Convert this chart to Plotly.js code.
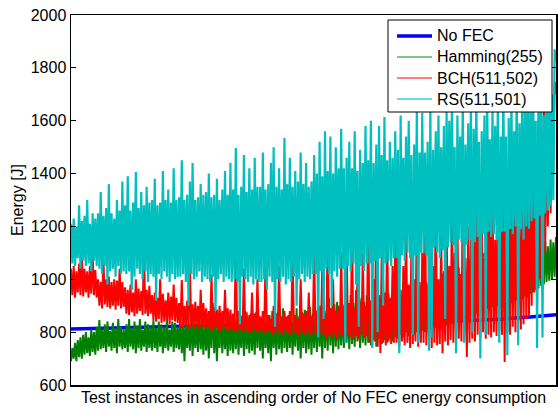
<!DOCTYPE html>
<html>
<head>
<meta charset="utf-8">
<script src="https://cdn.plot.ly/plotly-3.0.1.min.js"></script>
<style>html,body{margin:0;padding:0;background:#fff;}#chart{width:558px;height:410px;}</style>
</head>
<body>
<div id="chart"></div>
<script>
// Energy [J] per test instance (instances sorted by No FEC energy)
const noFecIdx = [0, 40, 80, 120, 160, 200, 240, 280, 300, 320, 340, 359];
const noFec    = [812, 817, 822, 826, 829, 832, 836, 841, 845, 850, 857, 866];

const hamming = [
 690,740,700,760,690,770,705,780,700,790,715,800,720,780,710,810,725,800,715,820,
 730,846,735,810,740,830,725,840,745,805,730,835,740,815,720,850,745,820,735,810,
 740,830,725,850,745,815,735,840,720,825,740,850,730,810,745,840,725,830,740,820,
 730,845,740,815,725,840,745,830,720,820,740,850,730,810,745,840,725,835,740,820,
 735,850,720,830,690,860,740,825,730,880,710,845,740,835,725,870,735,825,715,855,
 730,845,700,860,740,910,720,850,690,835,740,870,720,845,735,830,710,860,730,845,
 720,855,735,870,715,840,740,865,710,880,735,845,720,870,730,855,715,875,740,860,
 730,850,700,870,740,840,720,865,690,880,740,855,715,875,735,840,720,890,740,855,
 725,865,740,880,715,850,745,890,730,860,700,875,740,885,720,865,735,895,715,870,
 740,885,725,900,745,870,700,920,740,880,730,930,750,890,720,905,745,915,735,890,
 750,905,740,920,760,895,735,940,755,910,745,960,765,900,740,930,760,915,750,940,
 760,920,750,935,770,905,745,960,775,925,755,997,770,915,760,945,775,930,765,955,
 780,935,775,955,790,925,780,970,800,945,785,965,795,950,790,980,800,955,795,975,
 805,960,800,990,815,955,810,1010,825,975,815,1000,820,985,810,1020,830,995,825,1015,
 835,995,830,1030,845,990,835,1045,855,1015,845,1040,860,1010,850,1050,865,1025,855,1045,
 870,1035,860,1070,880,1030,870,1080,890,1050,880,1090,895,1045,885,1095,900,1065,890,1100,
 905,1070,900,1100,915,1065,910,1115,925,1080,920,1110,930,1090,925,1125,935,1095,930,1120,
 945,1105,950,1130,960,1100,965,1140,975,1115,980,1145,990,1125,995,1150,1000,1140,1010,1160
];

const bch = [
 1040,940,1050,930,1030,950,1060,940,1100,935,1040,950,1030,930,1050,945,1100,940,1035,930,
 1000,900,990,890,1085,905,1000,895,1010,890,990,900,1000,885,995,900,1040,890,990,895,
 970,870,960,865,980,875,950,860,1000,870,965,880,955,865,1122,870,960,860,975,870,
 940,845,950,840,930,850,1000,835,945,840,920,845,950,830,935,845,980,840,930,835,
 910,820,997,815,900,825,920,810,1050,820,905,815,915,825,900,810,960,820,910,815,
 890,815,880,810,1020,805,895,815,885,810,900,800,880,815,960,810,890,805,885,810,
 870,805,1160,800,880,810,860,805,1040,800,875,805,865,795,950,805,870,800,1000,805,
 860,800,880,795,1080,805,865,800,850,790,900,805,870,795,1050,800,860,790,880,805,
 860,795,880,790,1122,800,865,795,850,785,1000,800,870,790,880,795,950,785,860,800,
 1122,790,880,780,900,795,1060,785,870,775,1213,790,890,780,1000,795,880,770,900,790,
 1100,785,900,775,1150,790,910,780,1200,770,890,785,1000,775,920,790,1100,780,900,785,
 1250,760,920,750,1000,765,1349,745,940,721,1100,760,950,750,1200,765,930,755,1050,760,
 1180,760,1300,745,960,765,1050,750,1220,760,980,740,1150,755,1000,765,1280,745,990,760,
 1100,760,1349,750,980,765,1220,740,1050,760,1326,750,1000,755,1180,720,1030,765,1250,750,
 1050,770,1300,760,1100,750,1250,775,1020,765,1350,770,1080,706,1200,760,1150,775,1300,765,
 1400,790,1200,780,1326,800,1100,775,1478,790,1250,780,1380,800,1150,785,1420,805,1300,790,
 1350,687,1420,800,1250,790,1450,820,1300,800,1480,840,1200,810,1400,830,1500,850,1350,860,
 1450,900,1550,950,1400,900,1600,1000,1500,960,1650,1100,1550,1200,1700,1250,1600,1400,1750,1700
];

const rs = [
 1210,1060,1230,1050,1200,1080,1280,1040,1220,1070,1240,1050,1300,1060,1210,1030,1250,1070,1230,1050,
 1250,1040,1330,1020,1240,1050,1270,980,1360,1030,1250,1040,1230,1010,1300,1050,1260,1020,1370,1030,
 1280,1020,1390,1030,1260,960,1290,1010,1406,1040,1270,1020,1330,1000,1280,1030,1350,990,1290,1020,
 1300,1010,1380,920,1280,1020,1290,1000,1410,1030,1300,1010,1340,990,1290,1020,1420,1000,1300,1010,
 1310,1010,1450,1020,1300,990,1320,900,1370,1020,1440,1000,1300,1010,1310,1030,1360,990,1320,1010,
 1330,1000,1400,990,1310,1010,1320,880,1380,1000,1300,1020,1340,990,1410,1010,1320,1000,1440,990,
 1340,1000,1497,990,1320,830,1350,1010,1470,1000,1330,990,1420,1010,1340,980,1460,1000,1350,990,
 1350,990,1480,1000,1340,960,1360,1010,1440,990,1500,820,1350,1000,1420,990,1340,1010,1535,980,
 1360,1000,1460,990,1350,1010,1410,900,1370,1000,1480,1020,1360,990,1440,1010,1350,1000,1370,1020,
 1470,1020,1400,780,1520,1030,1390,850,1560,1040,1410,1020,1540,900,1400,1030,1500,1010,1420,1040,
 1570,1040,1420,760,1460,1050,1520,1030,1420,1060,1560,980,1410,820,1490,1050,1440,1030,1580,1060,
 1450,1060,1600,740,1440,1070,1510,800,1580,1080,1470,900,1614,1060,1450,1070,1520,1050,1460,1080,
 1560,1080,1490,720,1620,1090,1460,1070,1540,1100,1600,1080,1470,790,1510,1090,1640,760,1480,1100,
 1630,1100,1480,1090,1520,730,1660,780,1490,1120,1560,1100,1620,1080,1500,1110,1580,850,1650,1120,
 1600,1140,1680,1130,1500,720,1620,1150,1540,1140,1700,760,1510,1130,1590,1150,1660,800,1570,1140,
 1690,1160,1520,700,1560,1170,1620,790,1720,1180,1530,1160,1640,1170,1580,1150,1700,760,1540,1180,
 1720,1180,1540,713,1610,1190,1680,1170,1560,1200,1760,750,1590,1190,1700,1150,1640,1200,1740,1190,
 1650,1220,1780,1230,1600,740,1720,1240,1800,780,1620,1250,1760,1260,1830,1280,1700,1300,1870,1820
];

const idx = rs.map((_, i) => i);
const yTicks = [600, 800, 1000, 1200, 1400, 1600, 1800, 2000];
const seriesNames  = ['No FEC', 'Hamming(255)', 'BCH(511,502)', 'RS(511,501)'];
const seriesColors = ['#0000ff', '#008000', '#ff0000', '#00bfbf'];
const seriesWidths = [3.5, 2, 2, 2.2];

const traces = [
  {x: noFecIdx, y: noFec}, {x: idx, y: hamming}, {x: idx, y: bch}, {x: idx, y: rs}
].map((t, k) => Object.assign(t, {
  name: seriesNames[k], type: 'scatter', mode: 'lines', showlegend: false,
  line: {color: seriesColors[k], width: seriesWidths[k], simplify: false}
}));

const fam = '"Liberation Sans", Arial, Helvetica, sans-serif';
const font = {family: fam, size: 16, color: '#000'};

// Legend box (drawn as shapes + text, MATLAB style)
const W = 558, H = 410, L = 71, R = 2, T = 15, B = 25;
const pw = W - L - R, ph = H - T - B;
const px = v => (v - L) / pw;
const py = v => (H - B - v) / ph;
const legRows = [36, 57, 78, 99];
const legendSampleW = [3.5, 1.3, 1.2, 2];
const legendSampleC = ['#0000ff', '#5fae5f', '#ff0000', '#70d8d8'];

const shapes = [{
  type: 'rect', xref: 'paper', yref: 'paper', layer: 'above',
  x0: px(388), x1: px(552), y0: py(112), y1: py(20),
  fillcolor: '#fff', line: {color: '#000', width: 1}
}];
const annotations = [];
legRows.forEach((r, k) => {
  shapes.push({type: 'line', xref: 'paper', yref: 'paper', layer: 'above',
    x0: px(397), x1: px(432), y0: py(r), y1: py(r),
    line: {color: legendSampleC[k], width: legendSampleW[k]}});
  annotations.push({xref: 'paper', yref: 'paper', x: px(435), y: py(r),
    xanchor: 'left', yanchor: 'middle', showarrow: false, text: seriesNames[k],
    font: font});
});

const layout = {
  width: W, height: H,
  margin: {l: L, r: R, t: T, b: B, pad: 0},
  paper_bgcolor: '#fff', plot_bgcolor: '#fff',
  font: font,
  showlegend: false,
  shapes: shapes,
  annotations: annotations,
  xaxis: {
    range: [0, idx.length - 1],
    showgrid: false, zeroline: false,
    showline: true, mirror: true, linecolor: '#000', linewidth: 1.5,
    ticks: '', showticklabels: false,
    title: {text: 'Test instances in ascending order of No FEC energy consumption',
            font: font, standoff: 6}
  },
  yaxis: {
    range: [600, 2000],
    tickvals: yTicks,
    ticktext: yTicks.map(String),
    showgrid: false, zeroline: false,
    showline: true, mirror: 'ticks', linecolor: '#000', linewidth: 1.5,
    ticks: 'inside', ticklen: 5, tickwidth: 1, tickcolor: '#000',
    tickfont: font,
    title: {text: 'Energy [J]', font: font, standoff: 3}
  }
};

Plotly.newPlot('chart', traces, layout, {displayModeBar: false, staticPlot: true});
</script>
</body>
</html>
